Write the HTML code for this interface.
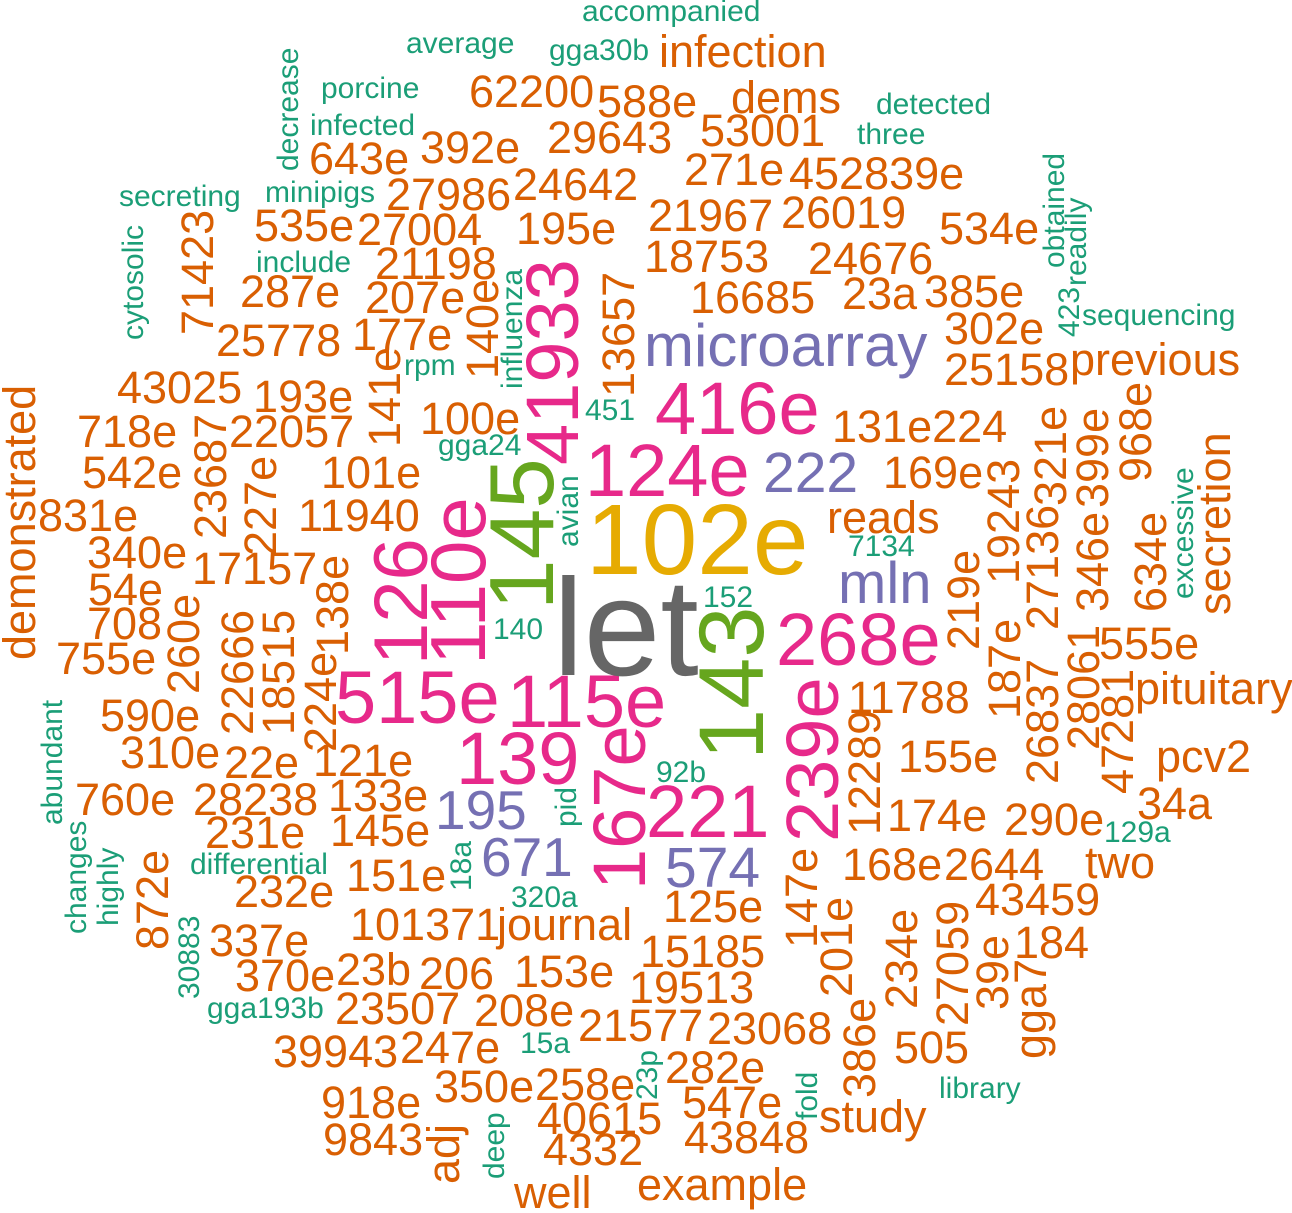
<!DOCTYPE html>
<html><head><meta charset="utf-8">
<style>
html,body{margin:0;padding:0;background:#fff;}
svg{display:block;}
text{font-family:"Liberation Sans",Arial,sans-serif;}
.o{fill:#D95F02;font-size:45px;}
.g{fill:#1B9E77;font-size:30px;}
.p{fill:#E7298A;font-size:74px;}
.v{fill:#7570B3;font-size:57px;}
.l{fill:#66A61E;font-size:91px;}
</style></head><body>
<svg width="1292" height="1213" viewBox="0 0 1292 1213" xmlns="http://www.w3.org/2000/svg">
<text class="g" x="582" y="21">accompanied</text>
<text class="g" x="406" y="53">average</text>
<text class="g" x="549" y="60">gga30b</text>
<text class="g" transform="translate(298,171) rotate(-90)">decrease</text>
<text class="g" x="321" y="98">porcine</text>
<text class="g" x="876" y="114">detected</text>
<text class="g" x="310" y="135">infected</text>
<text class="g" x="857" y="144">three</text>
<text class="g" x="119" y="206">secreting</text>
<text class="g" x="265" y="202">minipigs</text>
<text class="g" transform="translate(143,340) rotate(-90)">cytosolic</text>
<text class="g" x="256" y="272">include</text>
<text class="g" transform="translate(522,389) rotate(-90)">influenza</text>
<text class="g" x="404" y="375">rpm</text>
<text class="g" x="585" y="420">451</text>
<text class="g" x="438" y="455">gga24</text>
<text class="g" transform="translate(578,547) rotate(-90)">avian</text>
<text class="g" transform="translate(1064,268) rotate(-90)">obtained</text>
<text class="g" transform="translate(1086,286) rotate(-90)">readily</text>
<text class="g" transform="translate(1079,337) rotate(-90)">423</text>
<text class="g" x="1082" y="325">sequencing</text>
<text class="g" transform="translate(1193,599) rotate(-90)">excessive</text>
<text class="g" x="848" y="556">7134</text>
<text class="g" x="703" y="607">152</text>
<text class="g" x="493" y="639">140</text>
<text class="g" transform="translate(62,825) rotate(-90)">abundant</text>
<text class="g" transform="translate(576,827) rotate(-90)">pid</text>
<text class="g" transform="translate(86,934) rotate(-90)">changes</text>
<text class="g" transform="translate(118,926) rotate(-90)">highly</text>
<text class="g" x="190" y="874">differential</text>
<text class="g" transform="translate(471,891) rotate(-90)">18a</text>
<text class="g" x="511" y="907">320a</text>
<text class="g" transform="translate(199,999) rotate(-90)">30883</text>
<text class="g" x="207" y="1018">gga193b</text>
<text class="g" x="520" y="1053">15a</text>
<text class="g" transform="translate(504,1179) rotate(-90)">deep</text>
<text class="g" transform="translate(657,1100) rotate(-90)">23p</text>
<text class="g" x="656" y="782">92b</text>
<text class="g" x="1104" y="842">129a</text>
<text class="g" transform="translate(817,1120) rotate(-90)">fold</text>
<text class="g" x="939" y="1098">library</text>

<text class="o" x="659" y="67">infection</text>
<text class="o" x="469" y="107">62200</text>
<text class="o" x="597" y="117">588e</text>
<text class="o" x="731" y="113">dems</text>
<text class="o" x="700" y="146">53001</text>
<text class="o" x="309" y="174">643e</text>
<text class="o" x="420" y="163">392e</text>
<text class="o" x="547" y="153">29643</text>
<text class="o" x="684" y="185">271e</text>
<text class="o" x="789" y="189">452839e</text>
<text class="o" x="386" y="210">27986</text>
<text class="o" x="513" y="200">24642</text>
<text class="o" x="648" y="231">21967</text>
<text class="o" x="781" y="228">26019</text>
<text class="o" x="939" y="244">534e</text>
<text class="o" transform="translate(213,335) rotate(-90)">71423</text>
<text class="o" x="254" y="241">535e</text>
<text class="o" x="357" y="245">27004</text>
<text class="o" x="516" y="244">195e</text>
<text class="o" x="375" y="279">21198</text>
<text class="o" x="644" y="272">18753</text>
<text class="o" x="808" y="274">24676</text>
<text class="o" x="240" y="307">287e</text>
<text class="o" x="365" y="313">207e</text>
<text class="o" transform="translate(498,379) rotate(-90)">140e</text>
<text class="o" transform="translate(634,397) rotate(-90)">13657</text>
<text class="o" x="690" y="313">16685</text>
<text class="o" x="842" y="309">23a</text>
<text class="o" x="924" y="307">385e</text>
<text class="o" x="944" y="344">302e</text>
<text class="o" x="216" y="356">25778</text>
<text class="o" x="352" y="350">177e</text>
<text class="o" transform="translate(400,447) rotate(-90)">141e</text>
<text class="o" x="944" y="385">25158</text>
<text class="o" x="1070" y="375">previous</text>
<text class="o" x="117" y="403">43025</text>
<text class="o" x="253" y="412">193e</text>
<text class="o" x="420" y="434">100e</text>
<text class="o" transform="translate(35,660) rotate(-90)">demonstrated</text>
<text class="o" x="77" y="447">718e</text>
<text class="o" x="229" y="447">22057</text>
<text class="o" transform="translate(226,539) rotate(-90)">23687</text>
<text class="o" x="82" y="488">542e</text>
<text class="o" transform="translate(276,556) rotate(-90)">227e</text>
<text class="o" x="321" y="488">101e</text>
<text class="o" x="38" y="531">831e</text>
<text class="o" x="298" y="531">11940</text>
<text class="o" x="87" y="568">340e</text>
<text class="o" x="192" y="584">17157</text>
<text class="o" transform="translate(348,655) rotate(-90)">138e</text>
<text class="o" x="88" y="605">54e</text>
<text class="o" x="832" y="442">131e224</text>
<text class="o" transform="translate(1066,506) rotate(-90)">321e</text>
<text class="o" transform="translate(1108,508) rotate(-90)">399e</text>
<text class="o" transform="translate(1108,612) rotate(-90)">346e</text>
<text class="o" transform="translate(1151,482) rotate(-90)">968e</text>
<text class="o" x="883" y="488">169e</text>
<text class="o" transform="translate(1019,584) rotate(-90)">19243</text>
<text class="o" transform="translate(1058,630) rotate(-90)">27136</text>
<text class="o" transform="translate(1230,615) rotate(-90)">secretion</text>
<text class="o" transform="translate(1166,612) rotate(-90)">634e</text>
<text class="o" x="827" y="533">reads</text>
<text class="o" transform="translate(979,650) rotate(-90)">219e</text>
<text class="o" x="87" y="639">708</text>
<text class="o" x="56" y="674">755e</text>
<text class="o" transform="translate(199,694) rotate(-90)">260e</text>
<text class="o" transform="translate(253,735) rotate(-90)">22666</text>
<text class="o" transform="translate(294,735) rotate(-90)">18515</text>
<text class="o" transform="translate(336,752) rotate(-90)">224e</text>
<text class="o" x="100" y="731">590e</text>
<text class="o" x="120" y="768">310e</text>
<text class="o" x="224" y="778">22e</text>
<text class="o" x="313" y="776">121e</text>
<text class="o" x="75" y="815">760e</text>
<text class="o" x="193" y="815">28238</text>
<text class="o" x="328" y="811">133e</text>
<text class="o" x="205" y="848">231e</text>
<text class="o" x="330" y="846">145e</text>
<text class="o" transform="translate(168,950) rotate(-90)">872e</text>
<text class="o" x="346" y="891">151e</text>
<text class="o" x="234" y="907">232e</text>
<text class="o" x="350" y="940">101371</text>
<text class="o" x="497" y="940">journal</text>
<text class="o" x="209" y="956">337e</text>
<text class="o" x="235" y="991">370e</text>
<text class="o" x="336" y="985">23b</text>
<text class="o" x="419" y="989">206</text>
<text class="o" x="514" y="987">153e</text>
<text class="o" x="335" y="1024">23507</text>
<text class="o" x="474" y="1026">208e</text>
<text class="o" x="578" y="1041">21577</text>
<text class="o" x="273" y="1067">39943</text>
<text class="o" x="400" y="1063">247e</text>
<text class="o" x="434" y="1102">350e</text>
<text class="o" x="535" y="1100">258e</text>
<text class="o" x="321" y="1118">918e</text>
<text class="o" x="323" y="1155">9843</text>
<text class="o" transform="translate(459,1184) rotate(-90)">adj</text>
<text class="o" x="537" y="1134">40615</text>
<text class="o" x="543" y="1165">4332</text>
<text class="o" x="514" y="1208">well</text>
<text class="o" transform="translate(1020,719) rotate(-90)">187e</text>
<text class="o" transform="translate(1058,784) rotate(-90)">26837</text>
<text class="o" transform="translate(1099,750) rotate(-90)">28061</text>
<text class="o" x="1099" y="659">555e</text>
<text class="o" transform="translate(1133,794) rotate(-90)">47281</text>
<text class="o" x="1135" y="704">pituitary</text>
<text class="o" x="848" y="713">11788</text>
<text class="o" transform="translate(880,835) rotate(-90)">12289</text>
<text class="o" x="898" y="772">155e</text>
<text class="o" x="1156" y="772">pcv2</text>
<text class="o" x="887" y="831">174e</text>
<text class="o" x="1004" y="835">290e</text>
<text class="o" x="1137" y="819">34a</text>
<text class="o" transform="translate(817,948) rotate(-90)">147e</text>
<text class="o" x="842" y="880">168e</text>
<text class="o" x="944" y="880">2644</text>
<text class="o" x="1085" y="878">two</text>
<text class="o" x="663" y="922">125e</text>
<text class="o" transform="translate(852,997) rotate(-90)">201e</text>
<text class="o" x="975" y="915">43459</text>
<text class="o" x="640" y="967">15185</text>
<text class="o" transform="translate(917,1009) rotate(-90)">234e</text>
<text class="o" transform="translate(968,1026) rotate(-90)">27059</text>
<text class="o" transform="translate(1008,1010) rotate(-90)">39e</text>
<text class="o" x="1014" y="958">184</text>
<text class="o" transform="translate(1046,1059) rotate(-90)">gga7</text>
<text class="o" x="629" y="1003">19513</text>
<text class="o" x="707" y="1044">23068</text>
<text class="o" transform="translate(875,1098) rotate(-90)">386e</text>
<text class="o" x="894" y="1063">505</text>
<text class="o" x="665" y="1083">282e</text>
<text class="o" x="682" y="1118">547e</text>
<text class="o" x="819" y="1132">study</text>
<text class="o" x="684" y="1153">43848</text>
<text class="o" x="637" y="1200">example</text>

<text class="v" x="644" y="366" style="font-size:60px">microarray</text>
<text class="v" x="763" y="492">222</text>
<text class="v" x="838" y="603" style="font-size:58px">mln</text>
<text class="v" x="435" y="829" style="font-size:55px">195</text>
<text class="v" x="481" y="876" style="font-size:55px">671</text>
<text class="v" x="665" y="887">574</text>

<text class="p" transform="translate(578,465) rotate(-90)">41933</text>
<text class="p" x="655" y="434">416e</text>
<text class="p" x="585" y="496">124e</text>
<text class="p" transform="translate(485,665) rotate(-90)" style="font-size:78px">110e</text>
<text class="p" transform="translate(427,665) rotate(-90)" style="font-size:76px">126</text>
<text class="p" x="335" y="723">515e</text>
<text class="p" x="507" y="727">115e</text>
<text class="p" x="776" y="665">268e</text>
<text class="p" x="456" y="784">139</text>
<text class="p" transform="translate(645,890) rotate(-90)">167e</text>
<text class="p" x="646" y="837">221</text>
<text class="p" transform="translate(838,842) rotate(-90)">239e</text>

<text class="l" transform="translate(553,610) rotate(-90)">145</text>
<text class="l" transform="translate(763,760) rotate(-90)" style="font-size:92px">143</text>

<text x="586" y="574" style="font-size:100px;fill:#E6AB02">102e</text>
<text x="553" y="675" style="font-size:138px;fill:#666666">let</text>
</svg>
</body></html>
